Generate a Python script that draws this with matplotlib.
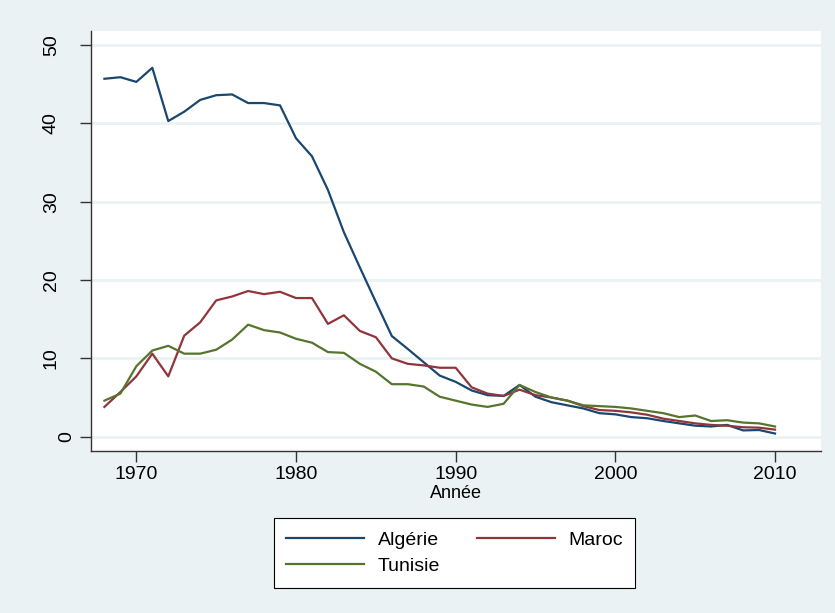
import numpy as np
import matplotlib.pyplot as plt
from matplotlib.transforms import ScaledTranslation

plt.rcParams['font.family'] = ['Liberation Sans', 'DejaVu Sans']

annees = list(range(1968, 2011))

algerie = [45.7, 45.9, 45.3, 47.1, 40.3, 41.5, 43.0, 43.6, 43.7, 42.6,
           42.6, 42.3, 38.1, 35.8, 31.5, 26.1, 21.6, 17.2, 12.85, 11.2,
           9.5, 7.8, 7.0, 5.9, 5.3, 5.2, 6.6, 5.1, 4.4, 4.0,
           3.6, 3.0, 2.85, 2.5, 2.35, 2.0, 1.7, 1.4, 1.3, 1.5,
           0.8, 0.85, 0.4]
maroc = [3.8, 5.7, 7.7, 10.6, 7.7, 12.9, 14.6, 17.4, 17.9, 18.6,
         18.2, 18.5, 17.7, 17.7, 14.4, 15.5, 13.5, 12.7, 10.0, 9.3,
         9.1, 8.8, 8.8, 6.3, 5.5, 5.2, 6.0, 5.3, 5.0, 4.6,
         3.9, 3.4, 3.3, 3.1, 2.8, 2.3, 2.0, 1.7, 1.5, 1.4,
         1.2, 1.15, 0.9]
tunisie = [4.6, 5.5, 9.0, 11.0, 11.6, 10.6, 10.6, 11.1, 12.4, 14.3,
           13.6, 13.3, 12.5, 12.0, 10.8, 10.7, 9.3, 8.3, 6.7, 6.7,
           6.4, 5.1, 4.6, 4.1, 3.8, 4.2, 6.6, 5.7, 5.0, 4.6,
           4.0, 3.9, 3.8, 3.6, 3.3, 3.0, 2.5, 2.7, 2.0, 2.1,
           1.8, 1.7, 1.3]

bg = '#EAF2F3'

fig = plt.figure(figsize=(8.35, 6.13), dpi=100, facecolor=bg)
ax = fig.add_axes([91/835, 1-451/613, 730/835, 420/613])
ax.set_facecolor('white')

l1, = ax.plot(annees, algerie, color='#1A476F', lw=1.6, label='Algérie')
l2, = ax.plot(annees, maroc, color='#90353B', lw=1.6, label='Maroc')
l3, = ax.plot(annees, tunisie, color='#55752F', lw=1.6, label='Tunisie')

ax.set_xlim(1967.16, 2012.88)
ax.set_ylim(-1.83, 51.8)
ax.set_xticks([1970, 1980, 1990, 2000, 2010])
ax.set_yticks([0, 10, 20, 30, 40, 50])
ax.set_yticklabels(['0', '10', '20', '30', '40', '50'], rotation=90, va='center')
ax.tick_params(axis='both', labelsize=14, length=8, width=1, color='#333333')
ax.tick_params(axis='x', pad=3)
ax.tick_params(axis='y', pad=14.5)
ax.grid(axis='y', color=bg, lw=2)
ax.set_axisbelow(True)

# le "0" est plus près de l'axe dans l'original
lbl0 = ax.get_yticklabels()[0]
lbl0.set_transform(lbl0.get_transform() + ScaledTranslation(0.16, 0, fig.dpi_scale_trans))

for s in ['top', 'right']:
    ax.spines[s].set_visible(False)
for s in ['left', 'bottom']:
    ax.spines[s].set_color('#333333')
    ax.spines[s].set_linewidth(1)

ax.set_xlabel('Année', fontsize=13, labelpad=1)

leg = fig.legend([l1, l3, l2], ['Algérie', 'Tunisie', 'Maroc'], ncol=2,
                 loc='center', bbox_to_anchor=(454.5/835, 1-553/613),
                 fontsize=14, handlelength=4.0, handletextpad=0.7,
                 columnspacing=1.9, labelspacing=0.45, fancybox=False,
                 edgecolor='black', framealpha=1, borderpad=0.65)
leg.get_frame().set_linewidth(0.8)

fig.savefig('out.png', dpi=100, facecolor=bg)
